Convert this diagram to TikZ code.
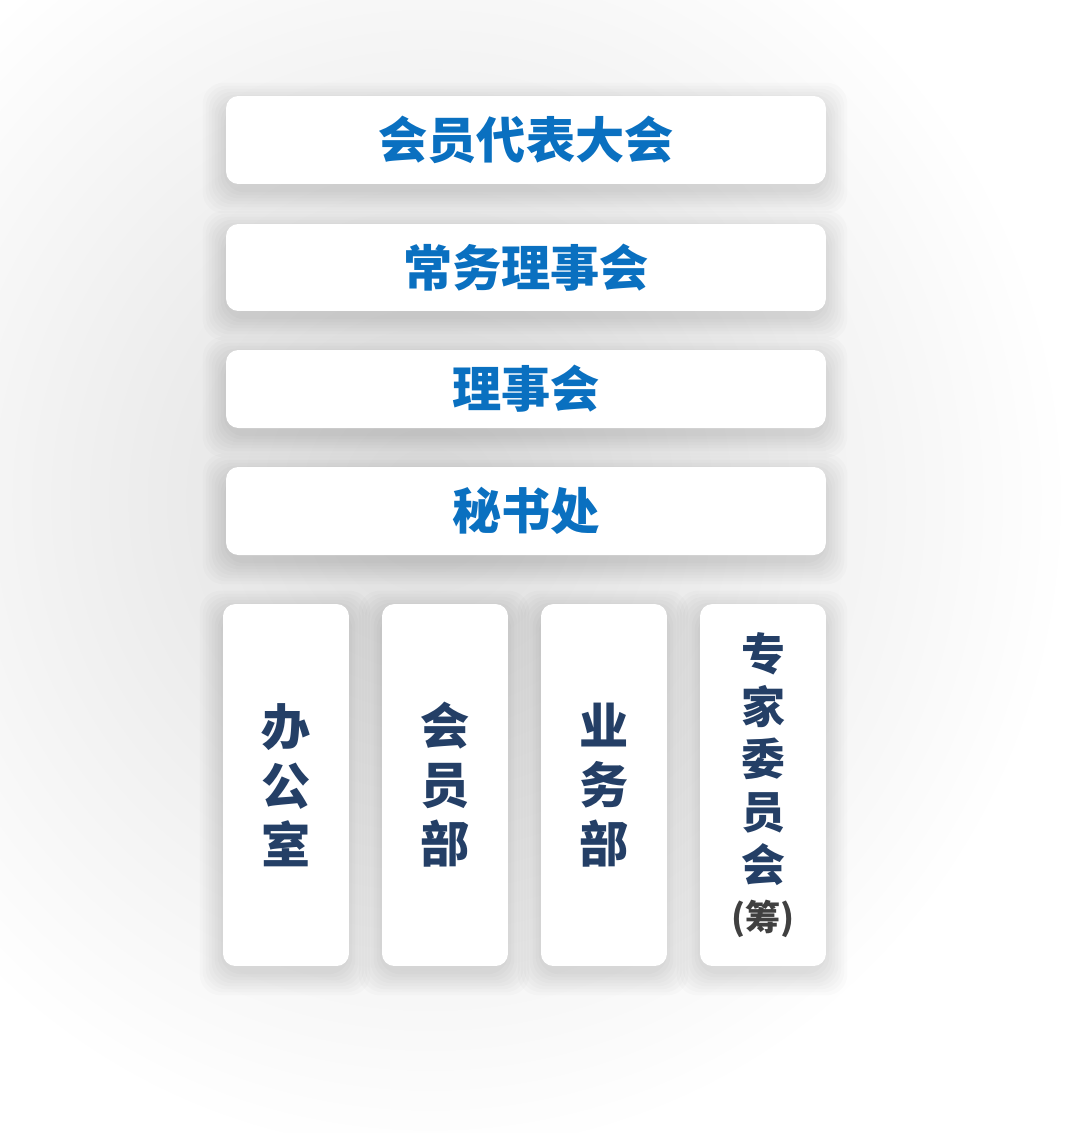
\documentclass[tikz,border=0pt]{standalone}
\usepackage{fontspec}
\newfontfamily\cjk{Noto Sans CJK SC}[BoldFont={Noto Sans CJK SC Black}]
\usetikzlibrary{backgrounds}
\definecolor{titleblue}{HTML}{0A70C0}
\definecolor{deptnavy}{HTML}{243F66}
\definecolor{notegray}{HTML}{404040}
\tikzset{
  panel/.style={fill=white, rounded corners=7pt, inner sep=0pt},
  wide/.style={panel, minimum width=12cm, font=\cjk\bfseries\fontsize{28}{30}\selectfont, text=titleblue},
  tall/.style={panel, minimum width=2.52cm, minimum height=7.24cm, align=center,
    font=\cjk\bfseries\fontsize{28}{33.6}\selectfont, text=deptnavy},
  haze/.style={fill=black, opacity=0.016, rounded corners=12pt}
}
\begin{document}
\begin{tikzpicture}[x=0.02cm, y=-0.02cm]
  \useasboundingbox (0,0) rectangle (1067,1133);
  \node[wide, minimum height=1.76cm] (congress) at (526,140) {会员代表大会};
  \node[wide, minimum height=1.74cm] (standing) at (526,267.5) {常务理事会};
  \node[wide, minimum height=1.56cm] (council) at (526,389) {理事会};
  \node[wide, minimum height=1.76cm] (secretariat) at (526,511) {秘书处};
  \node[tall] (office) at (286,785) {办\\公\\室};
  \node[tall] (members) at (445,785) {会\\员\\部};
  \node[tall] (business) at (604,785) {业\\务\\部};
  \node[tall, font=\cjk\bfseries\fontsize{25}{30}\selectfont] (experts) at (763,785)
    {专\\家\\委\\员\\会\\[-2pt]{\fontsize{20}{22}\selectfont\color{notegray}(筹)}};
  \begin{scope}[on background layer]
    \fill[white] (0,0) rectangle (1067,1133);
    \shade[inner color=black!13, outer color=white] (430,500) ellipse [x radius=640, y radius=660];
    \foreach \n in {congress,standing,council,secretariat,office,members,business,experts}
      \foreach \i in {0,3,...,21}
        \fill[haze] ([shift={(-\i-2,-\i+8)}]\n.north west) rectangle ([shift={(\i,\i+8)}]\n.south east);
  \end{scope}
\end{tikzpicture}
\end{document}
